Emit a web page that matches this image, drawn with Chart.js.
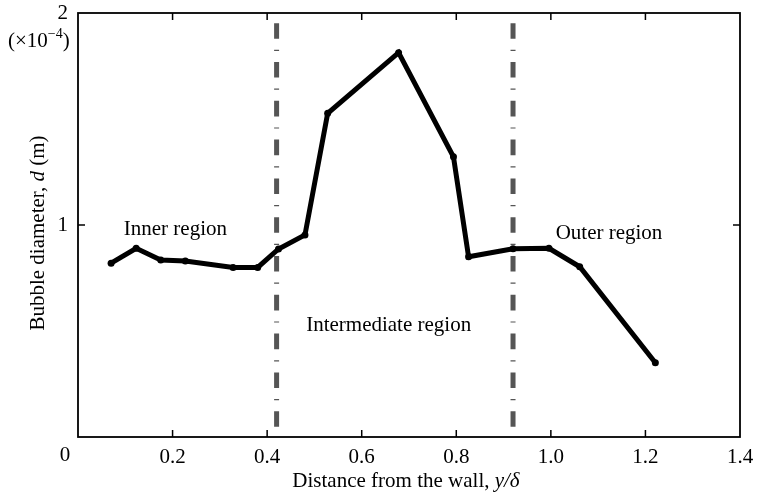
<!DOCTYPE html>
<html>
<head>
<meta charset="utf-8">
<script src="https://cdn.jsdelivr.net/npm/chart.js@4"></script>
<style>
  html, body { margin: 0; padding: 0; background: #fff; }
  canvas { display: block; }
</style>
</head>
<body>
<canvas id="chart" width="758" height="494"></canvas>
<script>
// distance from the wall, y/delta
const distance = [0.07, 0.123, 0.175, 0.227, 0.328, 0.38, 0.424, 0.48, 0.528, 0.678, 0.794, 0.826, 0.92, 0.996, 1.061, 1.221];
// bubble diameter (x1e-4 m)
const diameter = [0.82, 0.89, 0.835, 0.83, 0.80, 0.80, 0.887, 0.953, 1.527, 1.813, 1.322, 0.85, 0.888, 0.89, 0.803, 0.35];
// region boundaries
const boundaries = [0.42, 0.92];
const xTicks = [0, 0.2, 0.4, 0.6, 0.8, 1.0, 1.2, 1.4];
const yTicks = [1, 2];
const regionLabels = ['Inner region', 'Intermediate region', 'Outer region'];
const regionX = [0.206, 0.657, 1.123];
const regionY = [0.981, 0.528, 0.962];

const SERIF = '"Liberation Serif", "Times New Roman", serif';

const datasets = [{
    data: distance.map((x, i) => ({ x: x, y: diameter[i] })),
    showLine: true,
    borderColor: '#000',
    backgroundColor: '#000',
    borderWidth: 5,
    pointRadius: 3.5,
    pointBorderWidth: 0,
    tension: 0
}];
boundaries.forEach(b => {
    datasets.push({
        data: [{ x: b, y: 2 }, { x: b, y: 0 }],
        showLine: true,
        borderColor: '#555',
        borderWidth: 5,
        borderDash: [15.6, 11, 1.2, 11],
        borderDashOffset: 28.6,
        pointRadius: 0
    });
});

const decor = {
    id: 'decor',
    afterDraw(chart) {
        const ctx = chart.ctx;
        const a = chart.chartArea;
        const xs = chart.scales.x, ys = chart.scales.y;
        ctx.save();
        // frame
        ctx.strokeStyle = '#000';
        ctx.lineWidth = 1.8;
        ctx.strokeRect(a.left, a.top, a.right - a.left, a.bottom - a.top);
        // inward tick marks
        ctx.lineWidth = 1.5;
        ctx.beginPath();
        xTicks.slice(1, -1).forEach(v => {
            const px = xs.getPixelForValue(v);
            ctx.moveTo(px, a.bottom); ctx.lineTo(px, a.bottom - 7);
            ctx.moveTo(px, a.top); ctx.lineTo(px, a.top + 7);
        });
        yTicks.slice(0, -1).forEach(v => {
            const py = ys.getPixelForValue(v);
            ctx.moveTo(a.left, py); ctx.lineTo(a.left + 7, py);
            ctx.moveTo(a.right, py); ctx.lineTo(a.right - 7, py);
        });
        ctx.stroke();

        ctx.fillStyle = '#000';
        ctx.textBaseline = 'middle';
        ctx.textAlign = 'center';
        ctx.font = '21px ' + SERIF;
        // the corner "0"
        ctx.fillText('0', 65, 455);
        // region labels
        regionLabels.forEach((t, i) => {
            ctx.fillText(t, xs.getPixelForValue(regionX[i]), ys.getPixelForValue(regionY[i]));
        });

        // x title with italic part
        const parts = [['Distance from the wall, ', '21px ' + SERIF], ['y/\u03b4', 'italic 21px ' + SERIF]];
        let total = 0;
        parts.forEach(p => { ctx.font = p[1]; total += ctx.measureText(p[0]).width; });
        let x0 = 406 - total / 2;
        ctx.textAlign = 'left';
        parts.forEach(p => { ctx.font = p[1]; ctx.fillText(p[0], x0, 481); x0 += ctx.measureText(p[0]).width; });

        // y title (rotated)
        ctx.save();
        ctx.translate(38, 233);
        ctx.rotate(-Math.PI / 2);
        const yparts = [['Bubble diameter, ', '21px ' + SERIF], ['d', 'italic 21px ' + SERIF], [' (m)', '21px ' + SERIF]];
        total = 0;
        yparts.forEach(p => { ctx.font = p[1]; total += ctx.measureText(p[0]).width; });
        x0 = -total / 2;
        yparts.forEach(p => { ctx.font = p[1]; ctx.fillText(p[0], x0, 0); x0 += ctx.measureText(p[0]).width; });
        ctx.restore();

        // exponent note
        ctx.font = '21px ' + SERIF;
        let ex = 8;
        ctx.fillText('(\u00d710', ex, 41); ex += ctx.measureText('(\u00d710').width;
        ctx.font = '14px ' + SERIF;
        ctx.fillText('\u22124', ex, 34); ex += ctx.measureText('\u22124').width;
        ctx.font = '21px ' + SERIF;
        ctx.fillText(')', ex, 41);
        ctx.restore();
    }
};

new Chart(document.getElementById('chart').getContext('2d'), {
    type: 'scatter',
    data: { datasets: datasets },
    options: {
        responsive: false,
        animation: false,
        events: [],
        layout: { padding: { left: 0, top: 13, right: 18, bottom: 0 } },
        plugins: { legend: { display: false }, tooltip: { enabled: false } },
        scales: {
            x: {
                type: 'linear', min: 0, max: 1.4,
                afterBuildTicks: s => { s.ticks = xTicks.map(v => ({ value: v })); },
                afterFit: s => { s.height = 57; s.paddingLeft = 0; s.paddingRight = 0; },
                grid: { display: false },
                border: { display: false },
                ticks: {
                    color: '#000', padding: 0, maxRotation: 0, autoSkip: false,
                    font: { family: SERIF, size: 21 },
                    callback: v => v === 0 ? '' : v.toFixed(1)
                }
            },
            y: {
                type: 'linear', min: 0, max: 2,
                afterBuildTicks: s => { s.ticks = yTicks.map(v => ({ value: v })); },
                afterFit: s => { s.width = 78; s.paddingTop = 0; s.paddingBottom = 0; },
                grid: { display: false },
                border: { display: false },
                ticks: {
                    color: '#000', padding: 2,
                    font: { family: SERIF, size: 21 },
                    callback: v => String(v)
                }
            }
        }
    },
    plugins: [decor]
});
</script>
</body>
</html>
